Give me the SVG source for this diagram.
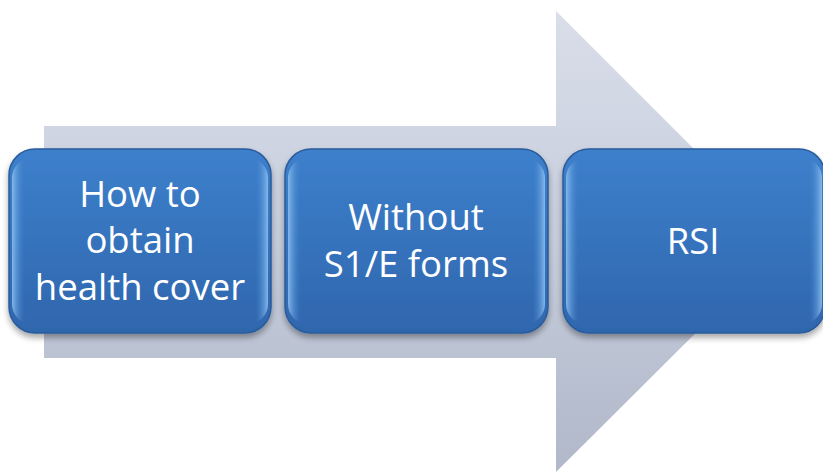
<svg xmlns="http://www.w3.org/2000/svg" width="823" height="472" viewBox="0 0 823 472">
<defs>
<linearGradient id="arrowG" x1="0" y1="0" x2="0" y2="1">
<stop offset="0" stop-color="#d9dee9"/>
<stop offset="0.5" stop-color="#c6cddc"/>
<stop offset="1" stop-color="#b0b8c9"/>
</linearGradient>
<linearGradient id="boxG" x1="0" y1="0" x2="0" y2="1">
<stop offset="0" stop-color="#3d80cc"/>
<stop offset="1" stop-color="#2f66ad"/>
</linearGradient>
<linearGradient id="edgeG" x1="0" y1="0" x2="1" y2="0">
<stop offset="0" stop-color="#8cc0f0" stop-opacity="0.9"/>
<stop offset="0.05" stop-color="#3d80cc" stop-opacity="0"/>
<stop offset="0.95" stop-color="#3d80cc" stop-opacity="0"/>
<stop offset="1" stop-color="#8cc0f0" stop-opacity="0.9"/>
</linearGradient>
<filter id="sh" x="-10%" y="-10%" width="120%" height="130%">
<feGaussianBlur in="SourceAlpha" stdDeviation="3"/>
<feOffset dy="4"/>
<feComponentTransfer><feFuncA type="linear" slope="0.35"/></feComponentTransfer>
<feMerge><feMergeNode/><feMergeNode in="SourceGraphic"/></feMerge>
</filter>
</defs>
<style>
.box{fill:url(#boxG);stroke:#2a5c9c;stroke-width:1.5;filter:url(#sh)}
.hl{fill:url(#edgeG);stroke:none}
.t{font-family:"Open Sans","Noto Sans","Liberation Sans",sans-serif;font-size:36.5px;fill:#ffffff;text-anchor:middle}
</style>
<g id="arrow">
<path d="M44,126 H556 V11 L787,242 L556,472 V358 H44 Z" fill="url(#arrowG)"/>
</g>
<g id="connectors"/>
<g id="node1">
<rect class="box" x="9" y="149" width="262" height="184" rx="26"/>
<rect class="hl" x="12" y="158" width="256" height="166" rx="20"/>
<text class="t" x="140" y="207">How to</text>
<text class="t" x="140" y="253">obtain</text>
<text class="t" x="140" y="300">health cover</text>
</g>
<g id="node2">
<rect class="box" x="285" y="149" width="263" height="184" rx="26"/>
<rect class="hl" x="288" y="158" width="257" height="166" rx="20"/>
<text class="t" x="416" y="230">Without</text>
<text class="t" x="416" y="277">S1/E forms</text>
</g>
<g id="node3">
<rect class="box" x="563" y="149" width="262" height="184" rx="26"/>
<rect class="hl" x="566" y="158" width="256" height="166" rx="20"/>
<text class="t" x="693" y="254">RSI</text>
</g>
</svg>
